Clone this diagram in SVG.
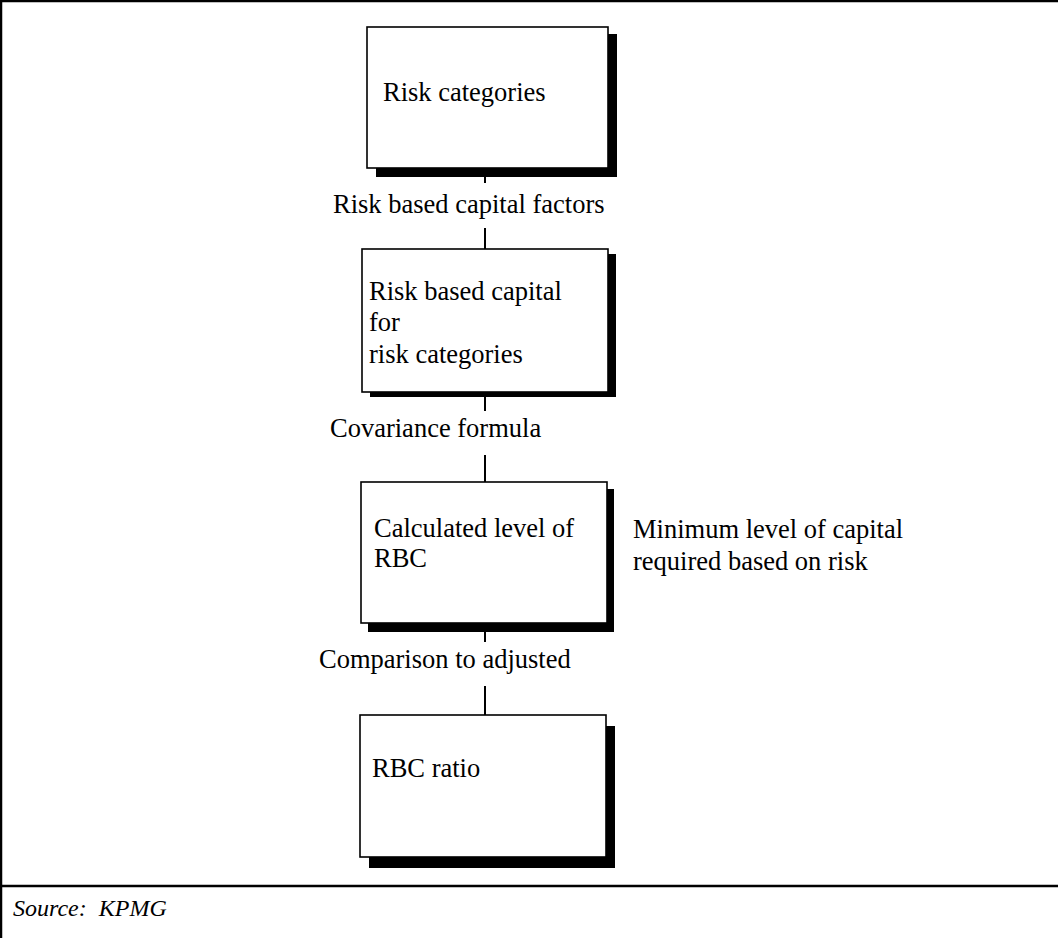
<svg xmlns="http://www.w3.org/2000/svg" width="1058" height="938" viewBox="0 0 1058 938">
<style>
.t{font-family:"Liberation Serif","Times New Roman",serif;font-size:26.5px;fill:#000}
.src{font-family:"Liberation Serif","Times New Roman",serif;font-size:24px;font-style:italic;fill:#000}
.box{fill:#fff;stroke:#000;stroke-width:1.6}
.sh{fill:#000}
.c{stroke:#000;stroke-width:2;fill:none}
</style>
<rect width="1058" height="938" fill="#fff"/>
<g id="frame">
<line x1="0" y1="1" x2="1058" y2="1" stroke="#000" stroke-width="2.5"/>
<line x1="1" y1="0" x2="1" y2="938" stroke="#000" stroke-width="2.5"/>
<line x1="0" y1="886" x2="1058" y2="886" stroke="#000" stroke-width="2.5"/>
</g>
<g id="connectors">
<line class="c" x1="485" y1="168" x2="485" y2="183"/>
<line class="c" x1="485" y1="228" x2="485" y2="249"/>
<line class="c" x1="485" y1="392" x2="485" y2="411"/>
<line class="c" x1="485" y1="455" x2="485" y2="482"/>
<line class="c" x1="485" y1="623" x2="485" y2="642"/>
<line class="c" x1="485" y1="686" x2="485" y2="715"/>
</g>
<g id="labels">
<text class="t" x="333" y="213">Risk based capital factors</text>
<text class="t" x="330" y="437">Covariance formula</text>
<text class="t" x="319" y="668">Comparison to adjusted</text>
</g>
<g id="node1">
<rect class="sh" x="376" y="34" width="241" height="143"/>
<rect class="box" x="367" y="27" width="241" height="141"/>
<text class="t" x="383" y="101">Risk categories</text>
</g>
<g id="node2">
<rect class="sh" x="370" y="254" width="246" height="143"/>
<rect class="box" x="362" y="249" width="246" height="143"/>
<text class="t" x="369" y="300">Risk based capital</text>
<text class="t" x="369" y="331">for</text>
<text class="t" x="369" y="363">risk categories</text>
</g>
<g id="node3">
<rect class="sh" x="368" y="489" width="246" height="143"/>
<rect class="box" x="361" y="482" width="246" height="141"/>
<text class="t" x="374" y="537">Calculated level of</text>
<text class="t" x="374" y="567">RBC</text>
</g>
<g id="node4">
<rect class="sh" x="369" y="726" width="246" height="142"/>
<rect class="box" x="360" y="715" width="246" height="142"/>
<text class="t" x="372" y="777">RBC ratio</text>
</g>
<g id="note">
<text class="t" x="633" y="538">Minimum level of capital</text>
<text class="t" x="633" y="570">required based on risk</text>
</g>
<g id="source">
<text class="src" x="13" y="916" xml:space="preserve">Source:  KPMG</text>
</g>
</svg>
